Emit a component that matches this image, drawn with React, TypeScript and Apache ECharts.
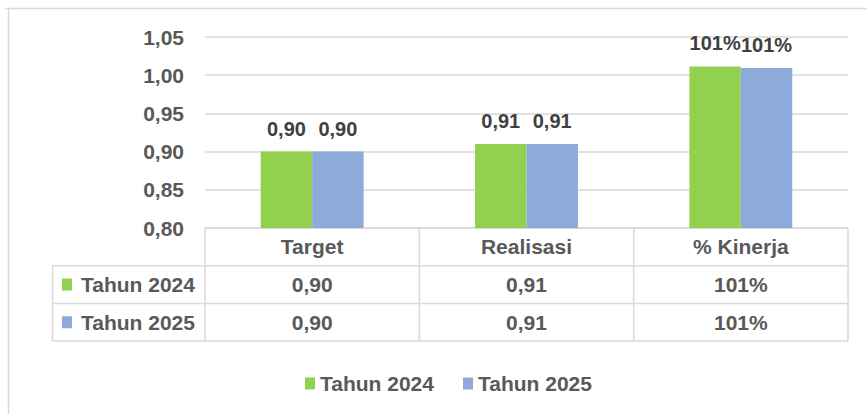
import React, { useEffect, useRef } from "react";
import * as echarts from "echarts";

const categories = ["Target", "Realisasi", "% Kinerja"];
const seriesNames = ["Tahun 2024", "Tahun 2025"];
const tahun2024 = [0.9, 0.91, 1.0115];
const tahun2025 = [0.9, 0.91, 1.0095];
const seriesColors = ["#92d050", "#8eaadb"];
const yMin = 0.8;
const yMax = 1.05;
const yInterval = 0.05;

const FONT = '"Liberation Sans", Arial, sans-serif';
const FS = 21;

function fmt(v: number, idx: number): string {
  if (idx === 2) return Math.round(v * 100) + "%";
  return v.toFixed(2).replace(".", ",");
}

export default function App() {
  const ref = useRef<HTMLDivElement>(null);
  useEffect(() => {
    if (!ref.current) return;
    const chart = echarts.init(ref.current, undefined, { renderer: "svg" });
    const allSeries = [tahun2024, tahun2025];
    chart.setOption({
      animation: false,
      backgroundColor: "#ffffff",
      grid: { left: 205, right: 19, top: 37, bottom: 186 },
      legend: {
        data: seriesNames,
        left: 300,
        top: 368,
        icon: "rect",
        itemWidth: 10,
        itemHeight: 12,
        itemGap: 29,
        textStyle: { color: "#595959", fontSize: FS, fontWeight: "bold", fontFamily: FONT },
      },
      xAxis: {
        type: "category",
        data: categories,
        axisLine: { show: false },
        axisTick: { show: false },
        axisLabel: { show: false },
      },
      yAxis: {
        type: "value",
        min: yMin,
        max: yMax,
        interval: yInterval,
        axisLine: { show: false },
        axisTick: { show: false },
        axisLabel: {
          formatter: (v: number) => v.toFixed(2).replace(".", ","),
          color: "#595959",
          fontSize: FS,
          fontWeight: "bold",
          fontFamily: FONT,
          margin: 21,
        },
        splitLine: { lineStyle: { color: "#d9d9d9", width: 1.5 } },
      },
      series: allSeries.map((d, si) => ({
        name: seriesNames[si],
        type: "bar",
        data: d,
        barGap: "0%",
        barCategoryGap: "52%",
        itemStyle: { color: seriesColors[si] },
        label: {
          show: true,
          position: "top",
          distance: 13,
          formatter: (p: any) => fmt(p.value, p.dataIndex),
          color: "#404040",
          fontSize: 20,
          fontWeight: "bold",
          fontFamily: FONT,
        },
      })),
    });

    const c0 = chart.convertToPixel({ xAxisIndex: 0 }, categories[0]) as number;
    const c1 = chart.convertToPixel({ xAxisIndex: 0 }, categories[1]) as number;
    const band = c1 - c0;
    const tableLeft = c0 - band / 2;
    const tableRight = tableLeft + band * categories.length;
    const top = chart.convertToPixel({ yAxisIndex: 0 }, yMin) as number;
    const rowH = 37.7;
    const headLeft = 52.5;
    const lineColor = "#d9d9d9";
    const elems: any[] = [];
    const hline = (x1: number, x2: number, y: number) =>
      elems.push({ type: "line", shape: { x1, y1: y, x2, y2: y }, style: { stroke: lineColor, lineWidth: 1.5 } });
    const vline = (x: number, y1: number, y2: number) =>
      elems.push({ type: "line", shape: { x1: x, y1, x2: x, y2 }, style: { stroke: lineColor, lineWidth: 1.5 } });
    elems.push({ type: "line", shape: { x1: 5, y1: 8.5, x2: 867, y2: 8.5 }, style: { stroke: lineColor, lineWidth: 1.5 } });
    elems.push({ type: "line", shape: { x1: 8.5, y1: 8, x2: 8.5, y2: 414 }, style: { stroke: lineColor, lineWidth: 1.5 } });
    hline(tableLeft, tableRight, top);
    for (let r = 1; r <= 3; r++) hline(headLeft, tableRight, top + rowH * r);
    for (let c = 0; c <= categories.length; c++) vline(tableLeft + band * c, top, top + rowH * 3);
    vline(headLeft, top + rowH, top + rowH * 3);
    const textEl = (text: string, x: number, y: number, align = "center") => ({
      type: "text",
      style: {
        text,
        x,
        y,
        align,
        verticalAlign: "middle",
        fontSize: FS,
        fontWeight: "bold",
        fontFamily: FONT,
        fill: "#595959",
      },
    });
    categories.forEach((cat, i) => {
      elems.push(textEl(cat, c0 + band * i, top + rowH / 2));
    });
    allSeries.forEach((d, si) => {
      const cy = top + rowH * (si + 1.5);
      elems.push({ type: "rect", shape: { x: 62, y: cy - 6, width: 10, height: 12 }, style: { fill: seriesColors[si] } });
      elems.push(textEl(seriesNames[si], 81, cy, "left"));
      d.forEach((v, i) => elems.push(textEl(fmt(v, i), c0 + band * i, cy)));
    });
    chart.setOption({ graphic: { elements: elems } });
    return () => chart.dispose();
  }, []);
  return (
    <div
      ref={ref}
      style={{ position: "fixed", left: 0, top: 0, width: 867, height: 414, background: "#fff" }}
    />
  );
}
